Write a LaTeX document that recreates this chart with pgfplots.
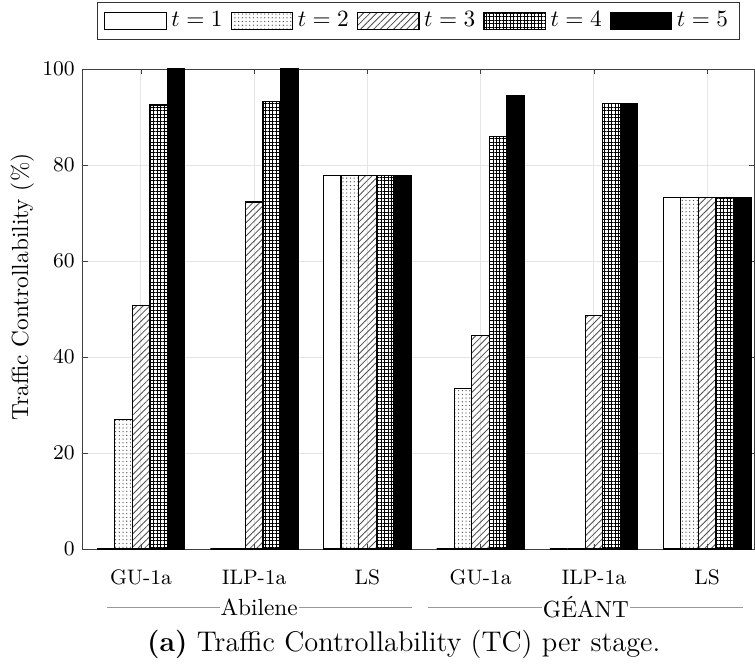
\documentclass[border=0pt]{standalone}
\usepackage{pgfplots}
\pgfplotsset{compat=1.18}
\usetikzlibrary{patterns.meta}
\pgfplotsset{
  mybar/.style={ybar, bar width=0.155, draw=black, line width=0.5pt,
    legend image code/.code={\draw[##1] (0pt,-3.5pt) rectangle (26.3pt,3.5pt);}},
}
\begin{document}
\begin{tikzpicture}
\begin{axis}[
  scale only axis, width=288pt, height=206pt,
  xmin=-0.512, xmax=5.415, ymin=0, ymax=100,
  ytick={0,20,...,100},
  xtick={0,...,5}, xticklabels={GU-1a,ILP-1a,LS,GU-1a,ILP-1a,LS},
  tick align=inside, major tick length=2pt,
  xmajorgrids, ymajorgrids, grid style={gray!20, line width=0.4pt},
  axis line style={black!75},
  tick style={black!75},
  ticklabel style={font=\small},
  xticklabel style={yshift=-5.5pt},
  ylabel={Traffic Controllability (\%)},
  ylabel style={at={(axis description cs:-0.0903,0.546)}, anchor=center, font=\normalsize},
  clip=false,
  legend columns=5,
  legend style={at={(0.5,1)}, anchor=south, yshift=12.4pt, draw=black!80,
    /tikz/every even column/.append style={column sep=1.5pt}, font=\normalsize},
]
\addplot[mybar, bar shift=-0.31, fill=white] coordinates {(0,0) (1,0) (2,77.8) (3,0) (4,0) (5,73.2)};
\addplot[mybar, bar shift=-0.155, pattern={Dots[distance=1.6pt, radius=0.28pt]}, pattern color=black!70] coordinates {(0,27.0) (1,0) (2,77.8) (3,33.5) (4,0) (5,73.2)};
\addplot[mybar, bar shift=0, pattern={Lines[angle=45, distance=2pt, line width=0.35pt]}, pattern color=black!70] coordinates {(0,50.8) (1,72.3) (2,77.8) (3,44.4) (4,48.6) (5,73.2)};
\addplot[mybar, bar shift=0.155, pattern={Hatch[distance=1.5pt, line width=0.3pt]}, pattern color=black] coordinates {(0,92.5) (1,93.2) (2,77.8) (3,85.9) (4,92.8) (5,73.2)};
\addplot[mybar, bar shift=0.31, fill=black] coordinates {(0,100) (1,100) (2,77.8) (3,94.5) (4,92.8) (5,73.2)};
\legend{$t=1$,$t=2$,$t=3$,$t=4$,$t=5$}
\draw[black!40, line width=0.4pt] ([yshift=-24.9pt]axis cs:-0.30,0) -- ([yshift=-24.9pt]axis cs:2.39,0);
\node[fill=white, inner sep=0.5pt] at ([yshift=-24.9pt]axis cs:1.045,0) {Abilene};
\draw[black!40, line width=0.4pt] ([yshift=-24.9pt]axis cs:2.535,0) -- ([yshift=-24.9pt]axis cs:5.32,0);
\node[fill=white, inner sep=0.5pt] at ([yshift=-24.9pt]axis cs:3.93,0) {GÉANT};
\node[font=\fontsize{12.2}{14}\selectfont] at ([yshift=-41pt]rel axis cs:0.478,0) {\textbf{(a)} Traffic Controllability (TC) per stage.};
\path ([xshift=-35.6pt, yshift=-48.9pt]rel axis cs:0,0) coordinate (bbA);
\path ([xshift=0.4pt, yshift=29.6pt]rel axis cs:1,1) coordinate (bbB);
\path (bbA) -- (bbB);
\end{axis}
\end{tikzpicture}
\end{document}
